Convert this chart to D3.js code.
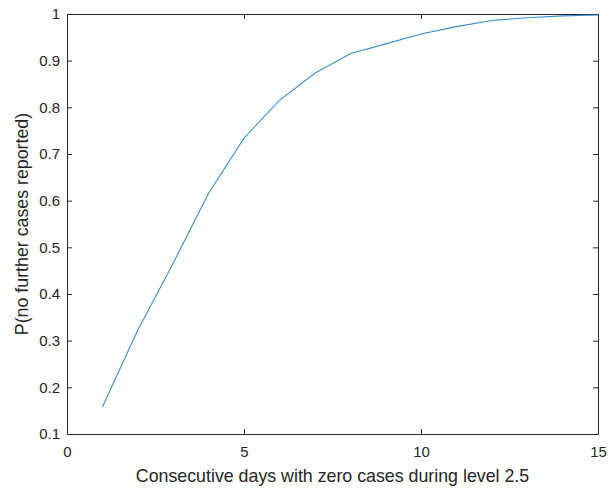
<!DOCTYPE html>
<html>
<head>
<meta charset="utf-8">
<script src="https://cdn.jsdelivr.net/npm/d3@7"></script>
<style>
  body { margin: 0; background: #fff; }
  text { font-family: "Liberation Sans", Arial, sans-serif; fill: #262626; }
</style>
</head>
<body>
<div id="viz-container"></div>
<script>
// values
let days = [1, 2, 3, 4, 5, 6, 7, 8, 9, 10, 11, 12, 13, 14, 15];
let probNoCases = [0.158, 0.323, 0.466, 0.616, 0.734, 0.815, 0.873, 0.915, 0.936, 0.957, 0.973, 0.986, 0.992, 0.996, 0.998];
let xTicks = [0, 5, 10, 15];
let yTicks = [0.1, 0.2, 0.3, 0.4, 0.5, 0.6, 0.7, 0.8, 0.9, 1];

let width = 612, height = 488;
// plot box edges (names avoid window.top clash)
let boxL = 67, boxR = 598, boxT = 14, boxB = 434;

let viz = d3.select("#viz-container")
                .append("svg")
                    .attr("width", width)
                    .attr("height", height)
;

let xScale = d3.scaleLinear().domain([0, 15]).range([boxL, boxR]);
let yScale = d3.scaleLinear().domain([0.1, 1]).range([boxB, boxT]);

// axes, matlab style: ticks inside, box on
viz.append("g")
    .attr("transform", "translate(0," + boxB + ")")
    .call(d3.axisBottom(xScale).tickValues(xTicks).tickSizeInner(-5).tickSizeOuter(0).tickPadding(12).tickFormat(d3.format("d")));
viz.append("g")
    .attr("transform", "translate(0," + boxT + ")")
    .call(d3.axisTop(xScale).tickValues(xTicks).tickSizeInner(-5).tickSizeOuter(0).tickFormat(""));
viz.append("g")
    .attr("transform", "translate(" + boxL + ",0)")
    .call(d3.axisLeft(yScale).tickValues(yTicks).tickSizeInner(-5).tickSizeOuter(0).tickPadding(7).tickFormat(d => d === 1 ? "1" : d3.format(".1f")(d)));
viz.append("g")
    .attr("transform", "translate(" + boxR + ",0)")
    .call(d3.axisRight(yScale).tickValues(yTicks).tickSizeInner(-5).tickSizeOuter(0).tickFormat(""));

viz.selectAll(".domain").attr("stroke", "#262626");
viz.selectAll(".tick line").attr("stroke", "#262626");
viz.selectAll(".tick text")
    .style("font-size", "15px")
    .style("font-family", "'Liberation Sans', Arial, sans-serif")
    .attr("fill", "#262626");

// the curve
let line = d3.line()
    .x((d, i) => xScale(days[i]))
    .y(d => yScale(d));

viz.append("path")
    .datum(probNoCases)
    .attr("d", line)
    .attr("fill", "none")
    .attr("stroke", "#3a8fd0")
    .attr("stroke-width", 1.1);

// labels
viz.append("text")
    .text("Consecutive days with zero cases during level 2.5")
    .attr("x", (boxL + boxR) / 2)
    .attr("y", 482)
    .attr("text-anchor", "middle")
    .style("font-size", "17.8px");

viz.append("text")
    .text("P(no further cases reported)")
    .attr("transform", "translate(28," + (boxT + boxB) / 2 + ") rotate(-90)")
    .attr("text-anchor", "middle")
    .style("font-size", "17.8px");
</script>
</body>
</html>
